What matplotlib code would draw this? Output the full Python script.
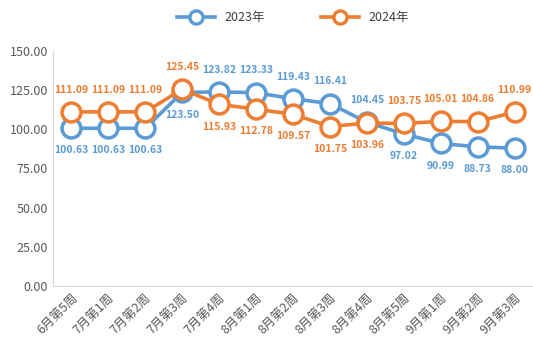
import matplotlib.pyplot as plt

plt.rcParams['font.family'] = ['Noto Sans CJK SC', 'DejaVu Sans']

weeks = ['6月第5周', '7月第1周', '7月第2周', '7月第3周', '7月第4周', '8月第1周', '8月第2周',
         '8月第3周', '8月第4周', '8月第5周', '9月第1周', '9月第2周', '9月第3周']
y2023 = [100.63, 100.63, 100.63, 123.50, 123.82, 123.33, 119.43, 116.41, 104.45, 97.02, 90.99, 88.73, 88.00]
y2024 = [111.09, 111.09, 111.09, 125.45, 115.93, 112.78, 109.57, 101.75, 103.96, 103.75, 105.01, 104.86, 110.99]
# 标签在上 (1) 或在下 (-1)
pos2023 = [-1, -1, -1, -1, 1, 1, 1, 1, 1, -1, -1, -1, -1]
pos2024 = [1, 1, 1, 1, -1, -1, -1, -1, -1, 1, 1, 1, 1]

blue = '#5B9BD5'
orange = '#ED7D31'

fig = plt.figure(figsize=(5.33, 3.59), dpi=100)
ax = fig.add_axes([0.0994, 0.2033, 0.9006, 0.655])

x = range(len(weeks))
for ys, c, lab, ps in [(y2023, blue, '2023年', pos2023), (y2024, orange, '2024年', pos2024)]:
    # light outer ring like the original glow
    ax.plot(x, ys, lw=0, marker='o', ms=15.5, mfc='none', mec=c, mew=1, alpha=0.35, clip_on=False)
    ax.plot(x, ys, color=c, lw=2.6, marker='o', ms=13.5, mfc='white', mec=c, mew=2.4,
            label=lab, clip_on=False)
    for i, v in enumerate(ys):
        ax.annotate(f'{v:.2f}', (i, v), xytext=(0, 16 * ps[i]), textcoords='offset points',
                    ha='center', va='center', fontsize=7.5, color=c, fontweight='bold')

ax.set_xlim(-0.5, len(weeks) - 0.5)
ax.set_ylim(0, 150)
ax.set_yticks([0, 25, 50, 75, 100, 125, 150])
ax.set_yticklabels([f'{t:.2f}' for t in [0, 25, 50, 75, 100, 125, 150]])
ax.set_xticks(list(x))
ax.set_xticklabels(weeks, rotation=45, ha='right', rotation_mode='anchor')
ax.tick_params(axis='both', length=0, labelsize=9, colors='#595959')
ax.tick_params(axis='x', pad=4)
for s in ['top', 'right']:
    ax.spines[s].set_visible(False)
for s in ['left', 'bottom']:
    ax.spines[s].set_color('#D9D9D9')

handles = [l for l in ax.lines if l.get_label() in ('2023年', '2024年')]
fig.legend(handles=handles, loc='upper center', bbox_to_anchor=(0.55, 1.0), ncol=2, frameon=False,
           fontsize=9, handlelength=3, columnspacing=4.5, markerscale=0.7,
           labelcolor='#404040')

fig.savefig('out.png', dpi=100)
